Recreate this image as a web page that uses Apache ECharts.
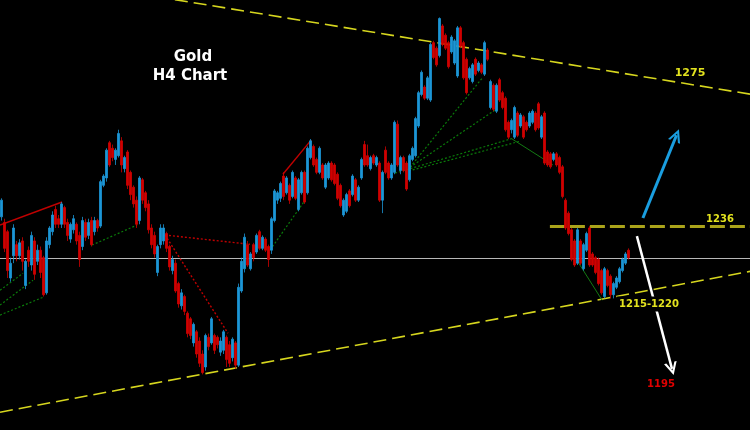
<!DOCTYPE html>
<html>
<head>
<meta charset="utf-8">
<title>Gold H4 Chart</title>
<script src="https://cdn.jsdelivr.net/npm/echarts@6/dist/echarts.min.js"></script>
<style>
  html, body { margin: 0; padding: 0; background: #000; }
  #gold-h4-chart { width: 750px; height: 430px; }
</style>
</head>
<body>
<div id="gold-h4-chart"></div>
<script>
// H4 bars, [open, close, low, high]
var candles = [
  [1238.5, 1243, 1237.5, 1243.5], [1237, 1230, 1229, 1238], [1234.5, 1224, 1222, 1235], [1222, 1226, 1221, 1227.5],
  [1228, 1235.5, 1226, 1236.5], [1231, 1228, 1226.5, 1232], [1228, 1231.5, 1227, 1232.5], [1232, 1226.5, 1224, 1233],
  [1220, 1226.5, 1219, 1227], [1229.5, 1226.5, 1225, 1230.5], [1225.5, 1233.5, 1224, 1234.5], [1232, 1223, 1221.5, 1233],
  [1226.5, 1229.5, 1225.5, 1231], [1229.5, 1223.5, 1222, 1230.5], [1227.5, 1217.5, 1217, 1228], [1218, 1232, 1217.5, 1233],
  [1231, 1235.5, 1230, 1236], [1234.5, 1239, 1233.5, 1240], [1240.5, 1236.5, 1235.5, 1241.5], [1238, 1236.5, 1235.5, 1239],
  [1236.5, 1242, 1235.5, 1242.5], [1241, 1236.5, 1235.5, 1241.5], [1237, 1233.5, 1232, 1238], [1232.5, 1236.5, 1231.5, 1237],
  [1235, 1238, 1234, 1239], [1236.5, 1232, 1231, 1237], [1233.5, 1227, 1225, 1234.5], [1230.5, 1237.5, 1229.5, 1238.5],
  [1237, 1233, 1232, 1238], [1233.5, 1237, 1232.5, 1238], [1237.5, 1231, 1230.5, 1238.5], [1234.5, 1237.5, 1233.5, 1238.5],
  [1237.5, 1235.5, 1234.5, 1238], [1236, 1248, 1235.5, 1248.5], [1247, 1249.5, 1246.5, 1250], [1249, 1256.5, 1248, 1257],
  [1258.5, 1252.5, 1252, 1259], [1257, 1254.5, 1253.5, 1258], [1254, 1256.5, 1252.5, 1257], [1255, 1261, 1254.5, 1262],
  [1259, 1252.5, 1250.5, 1260], [1251.5, 1254.5, 1250.5, 1255], [1256, 1247, 1246, 1256.5], [1250.5, 1244.5, 1243, 1251],
  [1246.5, 1242, 1241, 1247], [1243, 1236.5, 1235.5, 1244], [1237.5, 1249, 1236.5, 1249.5], [1248.5, 1243, 1242, 1249],
  [1245, 1241, 1240, 1245.5], [1242, 1235, 1234, 1243], [1235.5, 1231, 1230, 1236.5], [1233.5, 1228.5, 1227.5, 1234.5],
  [1223.5, 1230.5, 1222.5, 1231], [1231, 1235.5, 1230, 1236.5], [1232, 1235.5, 1231, 1236.5], [1234, 1230, 1229, 1234.5],
  [1230.5, 1225, 1224, 1231], [1224, 1227, 1223, 1228], [1226, 1218.5, 1218, 1227], [1220.5, 1215, 1214, 1221],
  [1214.5, 1218, 1213.5, 1219], [1217, 1213, 1212, 1217.5], [1212.5, 1207, 1206, 1213], [1211, 1206.5, 1205.5, 1211.5],
  [1204.5, 1209.5, 1203.5, 1210], [1207.5, 1201.5, 1200.5, 1208], [1205, 1199, 1198, 1206], [1201.5, 1196.5, 1196, 1202.5],
  [1198, 1206.5, 1197, 1207], [1206, 1203.5, 1202.5, 1207], [1204.5, 1211, 1204, 1211.5], [1206.5, 1202.5, 1201.5, 1207],
  [1206, 1204, 1203, 1206.5], [1202, 1205, 1201, 1206], [1202.5, 1207.5, 1201.5, 1208], [1206, 1200, 1198, 1206.5],
  [1204, 1199, 1198, 1205], [1200.5, 1205.5, 1199.5, 1206], [1204.5, 1198.5, 1197.5, 1205], [1198.5, 1219.5, 1198, 1220.5],
  [1218.5, 1226.5, 1218, 1227.5], [1224.5, 1233, 1223.5, 1234], [1231, 1225.5, 1225, 1232], [1224.5, 1228.5, 1224, 1229],
  [1231, 1227.5, 1226.5, 1231.5], [1229, 1233.5, 1228.5, 1234], [1234.5, 1230, 1229.5, 1235], [1230, 1233, 1229.5, 1233.5],
  [1232.5, 1229.5, 1229, 1233], [1230.5, 1227, 1225, 1231], [1229.5, 1238, 1228.5, 1238.5], [1237.5, 1245.5, 1237, 1246],
  [1243, 1245, 1242, 1245.5], [1243.5, 1247.5, 1242.5, 1248], [1249.5, 1244, 1243, 1250.5], [1245, 1249, 1244.5, 1249.5],
  [1247, 1243, 1242, 1247.5], [1244, 1250.5, 1243.5, 1251], [1249, 1243.5, 1243, 1249.5], [1240.5, 1248.5, 1240, 1249],
  [1245, 1250.5, 1244.5, 1251], [1250.5, 1242.5, 1242, 1251], [1245, 1257, 1244.5, 1257.5], [1254.5, 1259, 1254, 1259.5],
  [1257.5, 1252.5, 1252, 1258], [1254, 1250.5, 1250, 1254.5], [1250.5, 1257, 1250, 1257.5], [1252.5, 1249, 1248.5, 1253],
  [1246.5, 1252.5, 1246, 1253], [1249, 1253, 1248.5, 1253.5], [1253, 1248.5, 1248, 1253.5], [1252.5, 1247.5, 1247, 1253],
  [1250, 1243.5, 1243, 1250.5], [1247, 1241.5, 1241, 1247.5], [1239, 1243, 1238.5, 1243.5], [1240, 1244.5, 1239.5, 1245],
  [1245.5, 1241.5, 1241, 1246], [1244.5, 1249.5, 1244, 1250], [1248.5, 1243, 1242.5, 1249], [1243, 1246.5, 1242.5, 1247],
  [1249, 1254, 1248.5, 1254.5], [1258, 1252.5, 1252, 1259], [1255, 1252.5, 1252, 1258], [1251.5, 1254.5, 1251, 1255],
  [1255, 1253, 1252.5, 1255.5], [1252.5, 1254.5, 1252, 1255], [1253, 1243, 1242.5, 1253.5], [1243, 1250.5, 1239.5, 1251],
  [1256.5, 1250.5, 1250, 1257.5], [1253, 1249, 1248.5, 1253.5], [1249, 1252.5, 1248.5, 1253], [1250.5, 1264, 1250, 1264.5],
  [1263.5, 1252.5, 1252, 1264.5], [1251, 1254.5, 1250, 1255], [1254.5, 1251, 1250.5, 1255], [1253, 1246, 1245.5, 1253.5],
  [1248.5, 1255, 1248, 1255.5], [1254, 1257, 1253.5, 1257.5], [1255, 1265, 1254.5, 1265.5], [1263, 1272, 1262.5, 1272.5],
  [1271.5, 1277.5, 1271, 1278], [1273.5, 1270.5, 1270, 1274], [1270.5, 1276, 1270, 1276.5], [1270, 1285, 1269.5, 1285.5],
  [1285.5, 1281.5, 1281, 1286], [1284, 1279.5, 1279, 1284.5], [1282, 1292, 1281.5, 1292.3], [1290, 1285, 1284.5, 1290.5],
  [1287.5, 1284, 1283.5, 1288], [1285.5, 1279, 1278.5, 1286], [1283, 1287, 1282.5, 1287.5], [1280, 1286, 1279.5, 1286.5],
  [1276.5, 1289.5, 1276, 1290], [1289.5, 1284.5, 1284, 1290], [1285.5, 1276, 1275.5, 1286], [1281, 1272, 1271.5, 1281.5],
  [1276, 1278.5, 1275.5, 1279], [1275, 1279.5, 1274.5, 1280], [1281, 1277, 1276.5, 1281.5], [1278, 1280, 1277.5, 1280.5],
  [1279.5, 1277.5, 1277, 1280], [1277, 1285.5, 1276.5, 1286], [1283.5, 1281, 1280.5, 1284], [1268, 1275, 1267.5, 1275.5],
  [1274, 1267.5, 1267, 1274.5], [1267, 1274, 1266.5, 1274.5], [1275.5, 1270, 1269.5, 1276], [1272, 1268, 1267.5, 1272.5],
  [1270.5, 1262, 1261.5, 1271], [1264, 1260, 1259.5, 1264.5], [1262, 1264.5, 1261, 1265], [1260, 1268, 1259.5, 1268.5],
  [1266.5, 1260.5, 1260, 1267], [1263, 1266, 1262.5, 1266.5], [1265.5, 1260, 1259.5, 1266], [1264, 1262, 1261.5, 1264.5],
  [1263, 1266.5, 1262.5, 1267], [1264, 1267, 1263.5, 1267.5], [1266.5, 1262, 1261.5, 1267], [1269, 1262.5, 1262, 1269.5],
  [1260, 1265.5, 1259.5, 1266], [1266.5, 1253, 1252.5, 1267], [1256, 1252.5, 1252, 1256.5], [1255.5, 1252, 1251.5, 1256],
  [1254, 1255.5, 1253.5, 1256], [1255.5, 1252.5, 1252, 1256], [1254.5, 1250.5, 1250, 1255], [1252, 1244, 1243.5, 1252.5],
  [1243, 1235.5, 1235, 1243.5], [1239.5, 1234, 1233.5, 1240], [1235, 1227, 1226.5, 1235.5], [1232, 1225.5, 1225, 1232.5],
  [1226, 1235, 1225.5, 1235.5], [1232, 1226, 1225.5, 1232.5], [1224.5, 1231, 1224, 1231.5], [1229.5, 1234, 1229, 1234.5],
  [1235.5, 1225.5, 1225, 1236], [1228.5, 1225.5, 1225, 1229], [1227.5, 1223.5, 1223, 1228], [1227, 1220.5, 1220, 1227.5],
  [1224, 1218, 1217.5, 1224.5], [1217, 1224.5, 1216.5, 1225], [1224, 1220, 1219.5, 1224.5], [1222.5, 1217.5, 1216.5, 1223],
  [1217.5, 1220.5, 1216.5, 1221], [1219.5, 1222, 1219, 1222.5], [1221, 1224.5, 1220.5, 1225], [1224, 1227, 1223.5, 1227.5],
  [1226, 1228.5, 1225.5, 1229], [1229.5, 1227.5, 1227, 1230]
];
var slotCount = 250;
var categories = [];
for (var i = 0; i < slotCount; i++) categories.push('bar ' + (i + 1));

// drawn lines, [bar position, price]
var trendUpper = [[58.3, 1297.1], [250, 1271.6]];
var trendLower = [[0, 1185.8], [250, 1223.8]];
var level1236 = [[183.3, 1235.9], [250, 1235.9]];
var currentPrice = [[0, 1227.3], [250, 1227.3]];
var redSolid = [
  [[0, 1236.3], [20.7, 1242.5]],
  [[94.3, 1250], [103.7, 1259.2]]
];
var redDotted = [
  [[55, 1233.6], [83.3, 1231.1]],
  [[55, 1233.6], [76, 1207.1]]
];
var greenDotted = [
  [[0, 1218.7], [7.7, 1223.3]],
  [[0, 1214.7], [11, 1221.4]],
  [[0, 1212], [14.3, 1216.8]],
  [[30.7, 1230.9], [45.7, 1236.3]],
  [[89.3, 1228.7], [101.7, 1243]],
  [[131.7, 1250.3], [171, 1259.7]],
  [[135, 1250.6], [173.3, 1258.9]],
  [[136.7, 1251.9], [161, 1276.2]],
  [[136.7, 1251.9], [165, 1267.3]]
];
var greenSolid = [
  [[170.7, 1259.5], [184.3, 1252.5]],
  [[192.3, 1226.8], [200.7, 1216]]
];
var arrowUp = [[214.3, 1238.2], [225.5, 1260.5]];
var arrowDown = [[212.3, 1233.3], [224, 1197.5]];

var chevron = 'path://M5,0 L10,10 L8.2,10 L5,3.6 L1.8,10 L0,10 Z';

function segs(list) {
  return list.map(function (s) { return { coords: s }; });
}

var chart = echarts.init(document.getElementById('gold-h4-chart'));

function linesSeries(data, color, width, type, extra) {
  var s = {
    type: 'lines',
    coordinateSystem: 'cartesian2d',
    xAxisIndex: 1,
    yAxisIndex: 0,
    silent: true,
    symbol: 'none',
    lineStyle: { color: color, width: width, type: type, opacity: 1 },
    data: data
  };
  for (var k in extra) s[k] = extra[k];
  return s;
}

var labelFont = 'bold 10px "DejaVu Sans"';

var option = {
  backgroundColor: '#000000',
  animation: false,
  grid: { left: 0, right: 0, top: 0, bottom: 0 },
  xAxis: [{
    type: 'category',
    data: categories,
    show: false
  }, {
    type: 'value',
    min: 0,
    max: slotCount,
    show: false
  }],
  yAxis: {
    type: 'value',
    min: 1181,
    max: 1297,
    show: false,
    splitLine: { show: false }
  },
  series: [
    linesSeries(segs([currentPrice]), '#b8b8b8', 1, 'solid'),
    {
      type: 'candlestick',
      data: candles,
      barWidth: 2,
      itemStyle: {
        color: '#1c96d6',
        color0: '#d00000',
        borderColor: '#1c96d6',
        borderColor0: '#d00000',
        borderWidth: 0.8
      }
    },
    linesSeries(segs([trendUpper, trendLower]), '#d6d61e', 1.6, [13, 6]),
    linesSeries(segs([level1236]), '#aaa31a', 3, [15, 5]),
    linesSeries(segs(redSolid), '#c00000', 1.4, 'solid'),
    linesSeries(segs(redDotted), '#c00000', 1.4, [2, 2]),
    linesSeries(segs(greenDotted), '#0a7a0a', 1.2, [2, 2]),
    linesSeries(segs(greenSolid), '#137a13', 1, 'solid'),
    linesSeries(segs([arrowUp]), '#1a9ee0', 3, 'solid', { symbol: ['none', chevron], symbolSize: 13 }),
    linesSeries(segs([arrowDown]), '#ffffff', 2.5, 'solid', { symbol: ['none', chevron], symbolSize: 13 })
  ],
  graphic: [
    { type: 'text', z: 100, x: 193, y: 57, style: { text: 'Gold', fill: '#ffffff', font: 'bold 15px "DejaVu Sans"', align: 'center', verticalAlign: 'middle' } },
    { type: 'text', z: 100, x: 190, y: 76, style: { text: 'H4 Chart', fill: '#ffffff', font: 'bold 15px "DejaVu Sans"', align: 'center', verticalAlign: 'middle' } },
    { type: 'text', z: 100, x: 690, y: 73, style: { text: '1275', fill: '#e2e21e', font: 'bold 11px "DejaVu Sans"', align: 'center', verticalAlign: 'middle' } },
    { type: 'text', z: 100, x: 720, y: 219, style: { text: '1236', fill: '#e2e21e', font: labelFont, align: 'center', verticalAlign: 'middle' } },
    { type: 'text', z: 100, x: 649, y: 304, style: { text: '1215-1220', fill: '#e2e21e', font: labelFont, align: 'center', verticalAlign: 'middle', backgroundColor: '#000000', padding: [3, 2, 2, 2] } },
    { type: 'text', z: 100, x: 661, y: 384, style: { text: '1195', fill: '#e00000', font: labelFont, align: 'center', verticalAlign: 'middle' } }
  ]
};

chart.setOption(option);
</script>
</body>
</html>
